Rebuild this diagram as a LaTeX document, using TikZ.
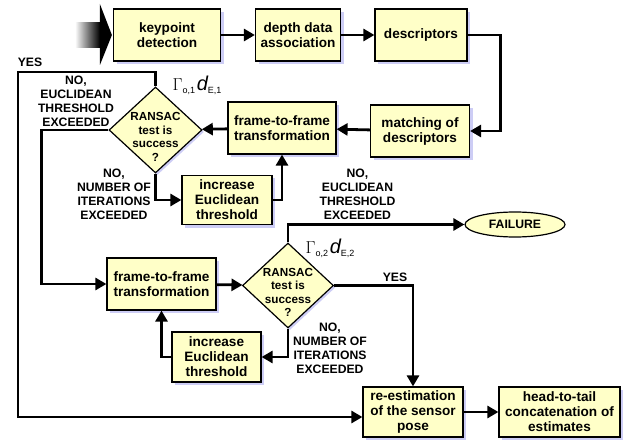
\documentclass[tikz,border=0pt]{standalone}
\usepackage{fontspec}
\setmainfont{Liberation Sans}
\usepackage{amsmath}
\usetikzlibrary{shapes.geometric, arrows.meta, positioning, calc, shadows}
\definecolor{boxfill}{RGB}{255,255,200}
\definecolor{shadowblue}{RGB}{205,205,245}
\newcommand{\boxfont}{\fontsize{13.6}{15}\selectfont\bfseries}
\newcommand{\lblfont}{\fontsize{12.2}{14}\selectfont\bfseries}
\newcommand{\dfont}{\fontsize{11.7}{13.5}\selectfont\bfseries}
\newcommand{\gamlbl}[1]{{\fontsize{16}{16}\selectfont$\Gamma$}\raisebox{-3pt}{\fontsize{9}{9}\selectfont o,#1}\,{\fontsize{20}{20}\selectfont\itshape d}\raisebox{-3pt}{\fontsize{9}{9}\selectfont E,#1}}
\tikzset{
  block/.style={rectangle, draw=black, fill=boxfill, align=center,
    font=\boxfont, line width=1.2pt, inner sep=0pt, minimum height=52pt,
    general shadow={fill=shadowblue, shadow xshift=3pt, shadow yshift=-3pt}},
  decision/.style={diamond, draw=black, fill=boxfill, line width=1.2pt,
    inner sep=0pt, minimum width=93pt, minimum height=86pt,
    general shadow={fill=shadowblue, shadow xshift=2pt, shadow yshift=-2pt}},
  dtext/.style={align=center, font=\dfont, inner sep=0pt},
  endstate/.style={ellipse, draw=black, fill=boxfill, line width=1.2pt,
    minimum width=100pt, minimum height=25pt, inner sep=0pt, font=\lblfont},
  lbl/.style={align=center, font=\lblfont, inner sep=0pt},
  gam/.style={inner sep=0pt},
  arrow/.style={-{Triangle[length=11pt,width=12pt]}, line width=2.8pt},
  line/.style={line width=2.8pt}
}

\begin{document}
\begin{tikzpicture}[x=1pt, y=-1pt]
  \useasboundingbox (0,0) rectangle (624,441);

  % Top row
  \node[block, minimum width=107pt] (kp) at (167,35) {keypoint\\detection};
  \node[block, minimum width=85pt] (dda) at (298,35) {depth data\\association};
  \node[block, minimum width=92pt] (desc) at (421,35) {descriptors};

  % First matching loop
  \node[block, minimum width=99pt] (match) at (420,131) {matching of\\descriptors};
  \node[block, minimum width=108pt] (ftf1) at (282,128) {frame-to-frame\\transformation};
  \node[decision] (ransac1) at (155.5,130) {};
  \node[dtext] (ransac1txt) at ($(ransac1)+(0,7)$) {RANSAC\\test is\\success\\?};
  \node[block, minimum width=90pt, minimum height=49pt] (inc1) at (227,200) {increase\\Euclidean\\threshold};

  % Second matching loop
  \node[block, minimum width=109pt] (ftf2) at (161.5,284) {frame-to-frame\\transformation};
  \node[decision, minimum width=91pt, minimum height=85pt] (ransac2) at (288,285.5) {};
  \node[dtext] (ransac2txt) at ($(ransac2)+(0,7)$) {RANSAC\\test is\\success\\?};
  \node[block, minimum width=89pt, minimum height=50pt] (inc2) at (216.5,357) {increase\\Euclidean\\threshold};
  \node[endstate] (fail) at (515,224.5) {FAILURE};

  % Pose estimation
  \node[block, minimum width=100pt, minimum height=50pt] (reest) at (413,412) {re-estimation\\of the sensor\\pose};
  \node[block, minimum width=121pt, minimum height=50pt] (htt) at (559.5,412) {head-to-tail\\concatenation of\\estimates};

  % Input arrow
  \fill[left color=white, right color=black] ($(kp.west)+(-38,-12)$) rectangle ($(kp.west)+(-13,13)$);
  \fill[black] ($(kp.west)+(-13,-31)$) -- ($(kp.west)+(-1,0)$) -- ($(kp.west)+(-13,30)$) -- cycle;

  % Labels
  \node[lbl] (yes1) at (30,62) {YES};
  \node[lbl] (noeu1) at (76,101.5) {NO,\\EUCLIDEAN\\THRESHOLD\\EXCEEDED};
  \node[lbl] (noit1) at (114,194) {NO,\\NUMBER OF\\ITERATIONS\\EXCEEDED};
  \node[gam] (gam1) at (197,85) {\gamlbl{1}};
  \node[lbl] (noeu2) at (357.5,194.5) {NO,\\EUCLIDEAN\\THRESHOLD\\EXCEEDED};
  \node[gam] (gam2) at (330,248) {\gamlbl{2}};
  \node[lbl] (yes2) at (395,277) {YES};
  \node[lbl] (noit2) at (330,348) {NO,\\NUMBER OF\\ITERATIONS\\EXCEEDED};

  % Corner points
  \coordinate (yescorner) at (18,72);
  \coordinate (reestin) at ($(reest.west)+(0,5)$);

  % Connectors
  \draw[arrow] (kp) -- (dda);
  \draw[arrow] (dda) -- (desc);
  \draw[arrow] (desc.east) -- ++(33,0) |- (match.east);
  \draw[arrow] (match) -- (ftf1);
  \draw[arrow] (ftf1) -- (ransac1);
  \draw[arrow] (ransac1.north) |- (yescorner) |- (reestin);
  \draw[arrow] (ransac1.west) -- ++(-67,0) |- (ftf2.west);
  \draw[arrow] (ransac1.south) |- (inc1.west);
  \draw[arrow] (inc1.east) -| (ftf1.south);
  \draw[arrow] (ftf2) -- (ransac2);
  \draw[arrow] (ransac2.north) |- (fail.west);
  \draw[arrow] (ransac2.east) -| (reest.north);
  \draw[arrow] (ransac2.south) |- (inc2.east);
  \draw[arrow] (inc2.west) -| (ftf2.south);
  \draw[arrow] (reest) -- (htt);
\end{tikzpicture}
\end{document}
